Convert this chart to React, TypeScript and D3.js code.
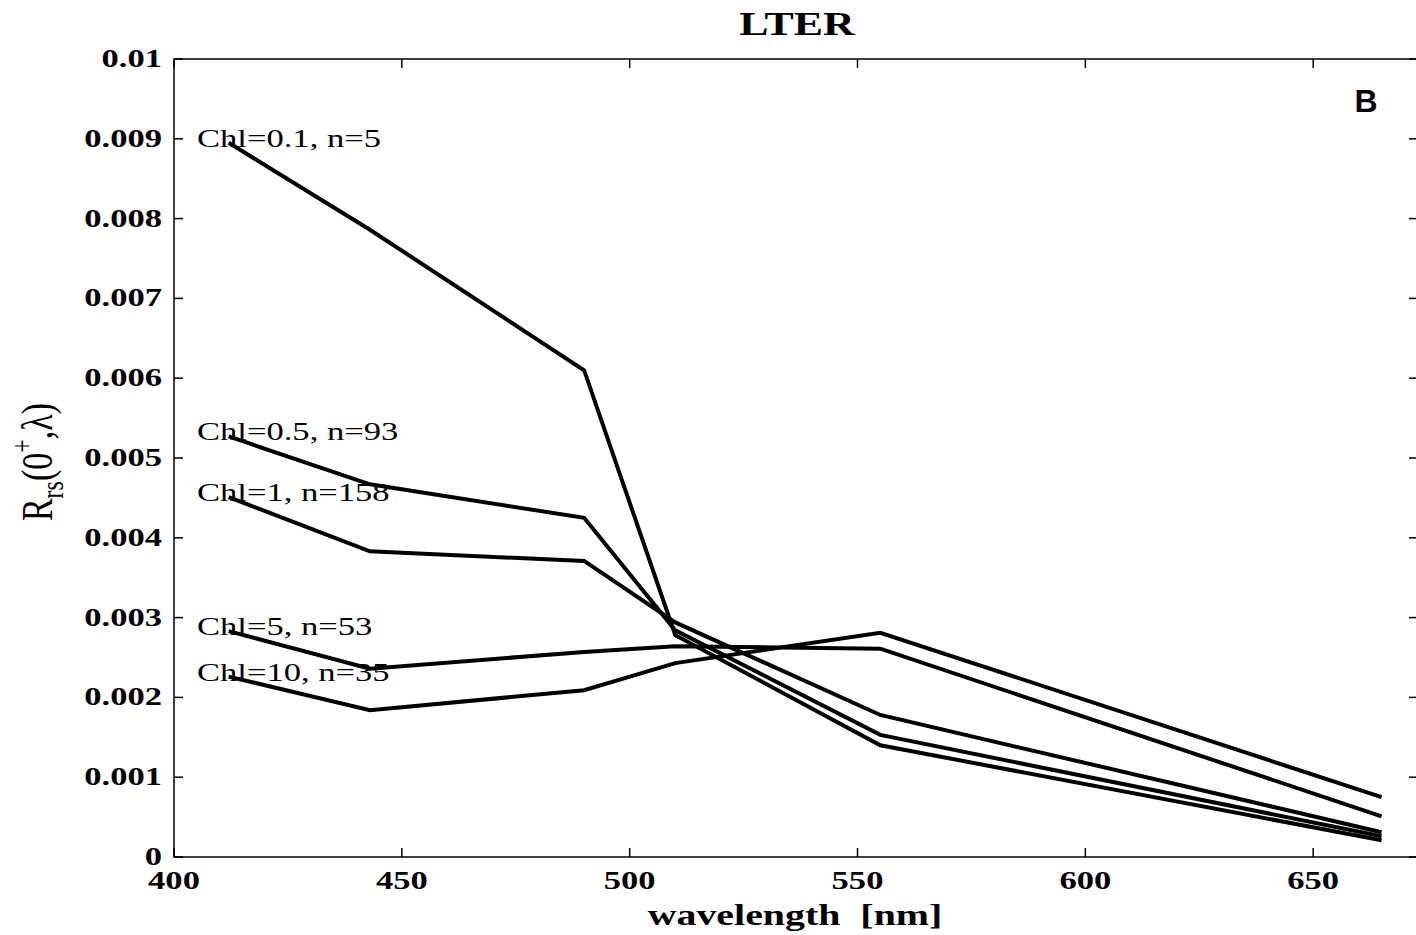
import React from 'react';
import * as d3 from 'd3';

// SeaWiFS bands (nm)
const wavelengths = [412, 443, 490, 510, 555, 665];

const labels = ['Chl=0.1, n=5', 'Chl=0.5, n=93', 'Chl=1, n=158', 'Chl=5, n=53', 'Chl=10, n=35'];

const chl01 = [0.00895, 0.00786, 0.0061, 0.00278, 0.0014, 0.00021];
const chl05 = [0.00527, 0.00467, 0.00425, 0.00284, 0.00153, 0.00026];
const chl1 = [0.00451, 0.00383, 0.00371, 0.00294, 0.00178, 0.00031];
const chl5 = [0.00283, 0.00236, 0.00257, 0.00264, 0.00261, 0.00051];
const chl10 = [0.00226, 0.00184, 0.00209, 0.00243, 0.00281, 0.00075];

const series = [chl01, chl05, chl1, chl5, chl10];

const xTicks = [400, 450, 500, 550, 600, 650];
const yTicks = [0, 0.001, 0.002, 0.003, 0.004, 0.005, 0.006, 0.007, 0.008, 0.009, 0.01];

const W = 1416;
const H = 935;
const m = { left: 174, right: 1418, top: 59, bottom: 857 };
const SX = 1.33; // the figure is stretched sideways

export default function App() {
  const x = d3.scaleLinear().domain([400, 673]).range([m.left, m.right]);
  const y = d3.scaleLinear().domain([0, 0.01]).range([m.bottom, m.top]);

  const line = d3
    .line<number>()
    .x((d, i) => x(wavelengths[i]))
    .y(d => y(d));

  const yFmt = (v: number) => (v === 0 ? '0' : v === 0.01 ? '0.01' : v.toFixed(3));

  return (
    <svg
      width={W}
      height={H}
      style={{ position: 'absolute', left: 0, top: 0, background: '#fff' }}
      fontFamily="'Liberation Serif', 'Times New Roman', serif"
    >
      {/* lines */}
      {series.map((s, i) => (
        <path key={i} d={line(s) || ''} fill="none" stroke="#000" strokeWidth={4} strokeLinejoin="miter" />
      ))}

      {/* frame */}
      <rect
        x={m.left}
        y={m.top}
        width={m.right - m.left}
        height={m.bottom - m.top}
        fill="none"
        stroke="#000"
        strokeWidth={1.5}
      />

      {/* x ticks */}
      {xTicks.map(t => (
        <g key={t}>
          <line x1={x(t)} x2={x(t)} y1={m.bottom} y2={m.bottom - 9} stroke="#000" strokeWidth={1.5} />
          <line x1={x(t)} x2={x(t)} y1={m.top} y2={m.top + 9} stroke="#000" strokeWidth={1.5} />
          <text
            transform={`translate(${x(t)},889) scale(${SX},1)`}
            textAnchor="middle"
            fontSize={26}
            fontWeight="bold"
          >
            {t}
          </text>
        </g>
      ))}

      {/* y ticks */}
      {yTicks.map(t => (
        <g key={t}>
          <line x1={m.left} x2={m.left + 9} y1={y(t)} y2={y(t)} stroke="#000" strokeWidth={1.5} />
          <line x1={m.right - 9} x2={m.right} y1={y(t)} y2={y(t)} stroke="#000" strokeWidth={1.5} />
          <text
            transform={`translate(162,${y(t) + 8}) scale(${SX},1)`}
            textAnchor="end"
            fontSize={26}
            fontWeight="bold"
          >
            {yFmt(t)}
          </text>
        </g>
      ))}

      {/* series labels */}
      {series.map((s, i) => (
        <text key={i} transform={`translate(197,${y(s[0]) + 4}) scale(${SX},1)`} fontSize={26}>
          {labels[i]}
        </text>
      ))}

      {/* title */}
      <text transform={`translate(797,35) scale(${SX},1)`} textAnchor="middle" fontSize={33} fontWeight="bold">
        LTER
      </text>

      {/* panel letter */}
      <text x={1366} y={112} textAnchor="middle" fontSize={32} fontWeight="bold" fontFamily="'Liberation Sans', Arial, sans-serif">
        B
      </text>

      {/* x label */}
      <text transform={`translate(795,925) scale(${SX},1)`} textAnchor="middle" fontSize={30} fontWeight="bold" style={{ whiteSpace: 'pre' }}>
        {'wavelength  [nm]'}
      </text>

      {/* y label */}
      <g transform={`translate(52,462) scale(${SX},1) rotate(-90)`}>
        <text textAnchor="middle" fontSize={34}>
          R
          <tspan fontSize={24} dy={8}>rs</tspan>
          <tspan dy={-8}>(0</tspan>
          <tspan fontSize={24} dy={-14}>+</tspan>
          <tspan dy={14}>,λ)</tspan>
        </text>
      </g>
    </svg>
  );
}
